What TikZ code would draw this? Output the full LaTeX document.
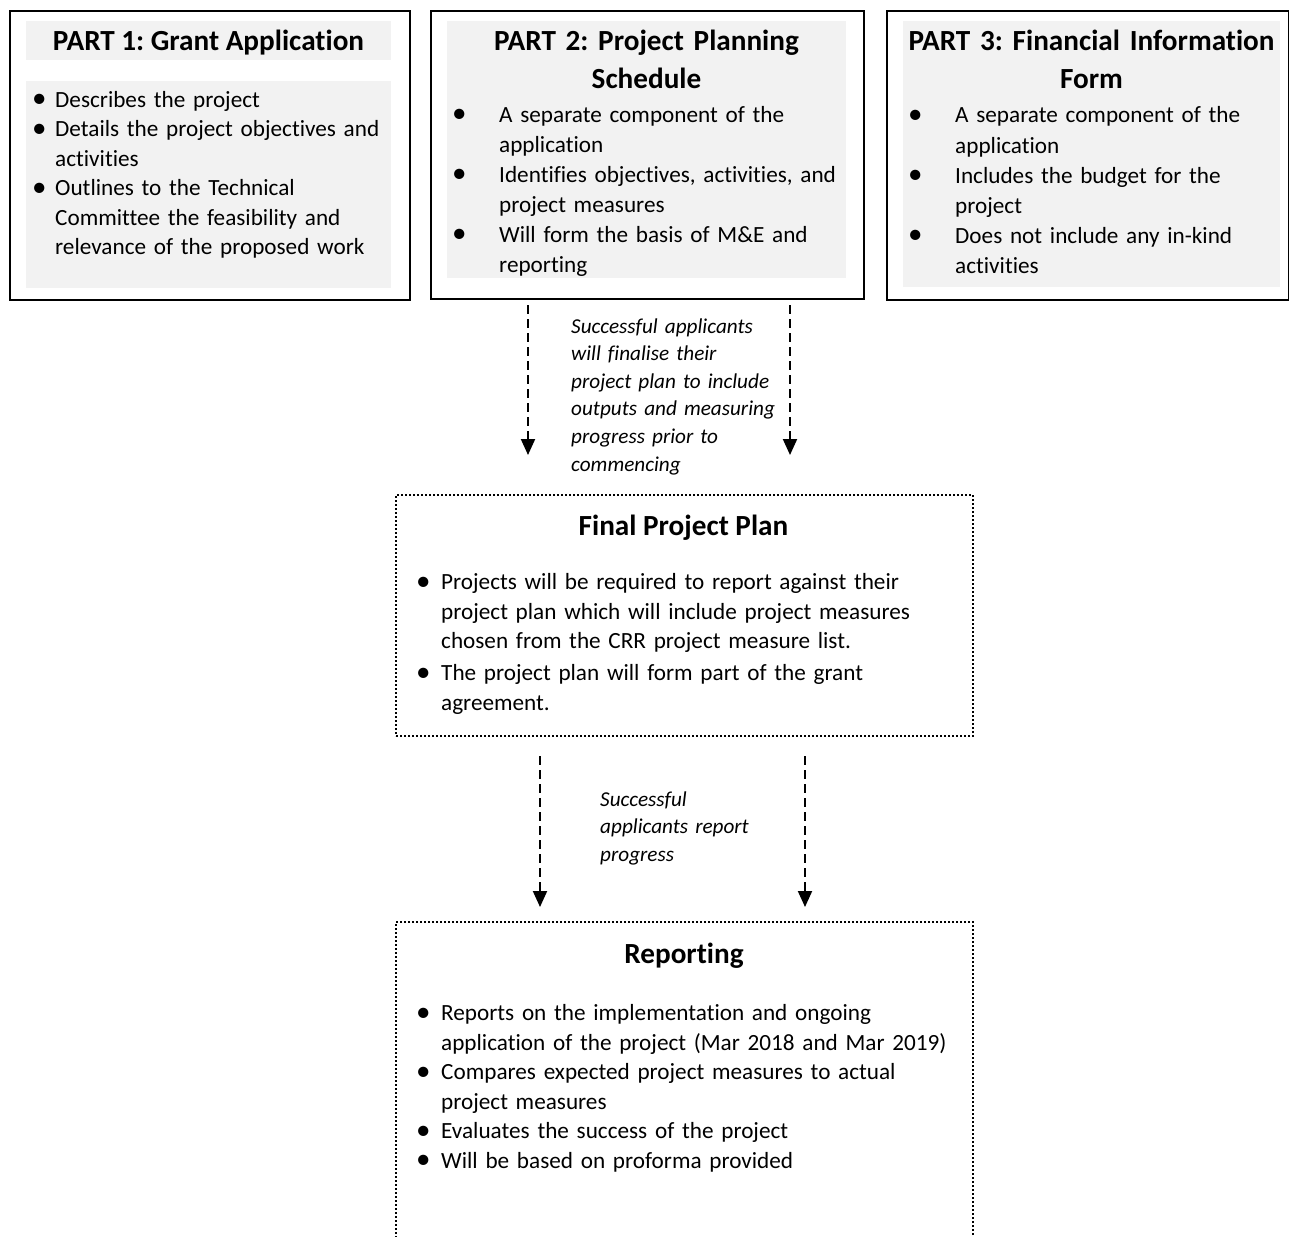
\documentclass[tikz,border=0pt]{standalone}
\usepackage{fontspec}
\setmainfont{Carlito}[Ligatures=NoCommon]
\usetikzlibrary{arrows.meta}
\definecolor{form-gray}{HTML}{F2F2F2}

\newlength{\bulletgap}
\newlength{\itemgap}
\newcommand{\bitem}[1]{\noindent\hangindent=\bulletgap\hangafter=1%
  \makebox[\bulletgap][l]{\raisebox{-0.8pt}{\scalebox{1.25}{\textbullet}}}#1\par\vskip\itemgap}

\tikzset{
  partbox/.style={draw, line width=2.4pt, anchor=north west, inner sep=0pt},
  dotbox/.style={draw, line width=2pt, dash pattern=on 2pt off 2pt, anchor=north west, inner sep=0pt},
  title/.style={anchor=base, inner sep=0pt, font=\bfseries\fontsize{29.2}{38}\selectfont},
  blist/.style={anchor=base west, inner sep=0pt, text width=560pt, align=left,
    font=\fontsize{23.2}{29.5}\selectfont, execute at begin node={\frenchspacing\setlength{\bulletgap}{#1}}},
  note/.style={anchor=base west, inner sep=0pt, text width=240pt, align=left,
    font=\itshape\fontsize{21.2}{27.6}\selectfont},
  flow/.style={line width=2pt, dash pattern=on 9pt off 5pt, -{Triangle[length=16pt,width=14pt]}}
}

\begin{document}
\frenchspacing
\begin{tikzpicture}[x=1pt, y=-1pt]
  \useasboundingbox (0,0) rectangle (1289,1236);

  % grey panels behind the three parts
  \fill[form-gray] (26,21) rectangle (391,60);
  \fill[form-gray] (26,81) rectangle (391,288);
  \fill[form-gray] (447,21) rectangle (846,278);
  \fill[form-gray] (903,21) rectangle (1280,287);

  \node[partbox, minimum width=400pt, minimum height=289pt] (part1) at (9,10) {};
  \node[partbox, minimum width=433pt, minimum height=288pt] (part2) at (430,10) {};
  \node[partbox, minimum width=402pt, minimum height=289pt] (part3) at (886,10) {};

  \node[title] (title1) at (208.5,51) {PART 1: Grant Application};
  \node[title, text width=420pt, align=center] (title2) at (646.5,51) {PART 2: Project Planning\\Schedule};
  \node[title, text width=400pt, align=center] (title3) at (1091.5,51) {PART 3: Financial Information\\Form};

  \node[blist=23pt] (list1) at (32,107) {%
    \bitem{Describes the project}
    \bitem{Details the project objectives and\newline activities}
    \bitem{Outlines to the Technical\newline Committee the feasibility and\newline relevance of the proposed work}};
  \node[blist=47pt, font=\fontsize{23.2}{30}\selectfont] (list2) at (452,122) {%
    \bitem{A separate component of the\newline application}
    \bitem{Identifies objectives, activities, and\newline project measures}
    \bitem{Will form the basis of M\&E and\newline reporting}};
  \node[blist=47pt, font=\fontsize{23.2}{30}\selectfont] (list3) at (908,123) {%
    \bitem{A separate component of the\newline application}
    \bitem{Includes the budget for the\newline project}
    \bitem{Does not include any in-kind\newline activities}};

  % first pair of arrows
  \foreach \x/\n in {528/l, 790/r} {
    \coordinate (top-\n) at (\x,305);
    \coordinate (mid-\n) at (\x,455);
    \draw[flow] (top-\n) -- (mid-\n);
  }
  \node[note] (note1) at (571,333) {Successful applicants\\will finalise their\\project plan to include\\outputs and measuring\\progress prior to\\commencing};

  \node[dotbox, minimum width=577pt, minimum height=241pt] (plan) at (395,494) {};
  \node[title] (title4) at (683.5,535) {Final Project Plan};
  \node[blist=25pt, execute at begin node={\setlength{\itemgap}{2.5pt}}] (list4) at (416,589.5) {%
    \bitem{Projects will be required to report against their\newline project plan which will include project measures\newline chosen from the CRR project measure list.}
    \bitem{The project plan will form part of the grant\newline agreement.}};

  % second pair of arrows
  \foreach \x/\n in {540/l, 805/r} {
    \coordinate (low-\n) at (\x,756);
    \coordinate (end-\n) at (\x,907);
    \draw[flow] (low-\n) -- (end-\n);
  }
  \node[note] (note2) at (600,806) {Successful\\applicants report\\progress};

  \begin{scope}
    \clip (0,0) rectangle (1289,1236);
    \node[dotbox, minimum width=577pt, minimum height=360pt] (report) at (395,921) {};
  \end{scope}
  \node[title] (title5) at (684,963) {Reporting};
  \node[blist=25pt] (list5) at (416,1020.5) {%
    \bitem{Reports on the implementation and ongoing\newline application of the project (Mar 2018 and Mar 2019)}
    \bitem{Compares expected project measures to actual\newline project measures}
    \bitem{Evaluates the success of the project}
    \bitem{Will be based on proforma provided}};
\end{tikzpicture}
\end{document}
